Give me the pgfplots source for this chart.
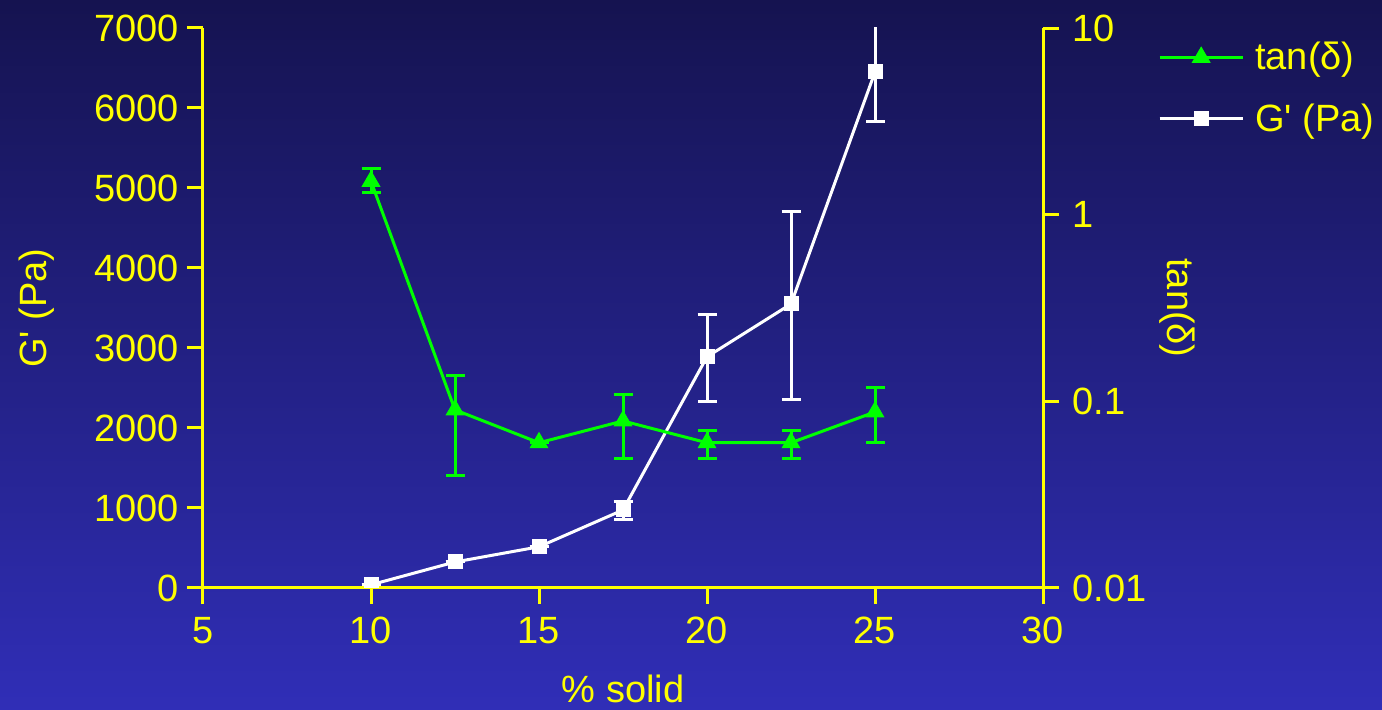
\documentclass[border=0pt]{standalone}
\usepackage{fontspec}
\setmainfont{Liberation Sans}
\usepackage{pgfplots}
\usepackage{pgfplotstable}
\pgfplotsset{compat=1.18}
\definecolor{bgtop}{RGB}{21,19,80}
\definecolor{bgbot}{RGB}{48,46,183}
\definecolor{yel}{RGB}{255,255,0}
\definecolor{grn}{RGB}{0,255,0}

\pgfplotstableread{
x y ep em
10 40 0 0
12.5 325 0 0
15 515 0 0
17.5 975 100 125
20 2890 525 565
22.5 3550 1162 1188
25 6450 615 613
}\gdata

\pgfplotstableread{
x y ep em
10 1.51 0.25 0.19
12.5 0.090 0.048 0.050
15 0.060 0 0
17.5 0.0785 0.0305 0.0288
20 0.060 0.0102 0.0103
22.5 0.060 0.0102 0.0103
25 0.0877 0.031 0.0277
}\tdata

\pgfplotsset{
  common/.style={
    scale only axis, width=420pt, height=280pt,
    at={(101.5pt,61pt)}, anchor=south west,
    xmin=5, xmax=30,
    tick align=outside,
    major tick length=8pt,
    every tick/.style={yel, line width=1.5pt},
    axis line style={yel, line width=1.5pt},
    tick label style={yel},
    /pgf/number format/assume math mode=true,
    /pgf/number format/1000 sep={},
    scaled ticks=false,
  },
  legend image code/.code={
    \draw[mark repeat=2, mark phase=2] plot coordinates {(0pt,0pt) (20.75pt,0pt) (41.5pt,0pt)};
  },
}

\begin{document}
\begin{tikzpicture}[font=\fontsize{19}{23}\selectfont]
\shade[top color=bgtop, bottom color=bgbot] (0,0) rectangle (691pt,355pt);
\useasboundingbox (0,0) rectangle (691pt,355pt);

\begin{axis}[common,
  axis x line*=bottom, axis y line*=left,
  ymin=0, ymax=7000,
  xtick={5,10,...,30},
  ytick={0,1000,...,7000},
  xticklabel style={inner sep=0pt, anchor=north, yshift=-6.5pt},
  yticklabel style={inner sep=0pt, anchor=east, xshift=-4pt},
  xlabel={\% solid},
  every axis x label/.style={at={(axis description cs:0.5,-0.205)}, anchor=base, text=yel},
  ylabel={G\textquotesingle{} (Pa)},
  every axis y label/.style={at={(axis description cs:-0.198,0.5)}, rotate=90, anchor=center, text=yel},
  clip marker paths=true,
]
\addplot[white, line width=1.5pt, mark=square*, mark size=3pt,
  mark options={fill=white, line width=1.5pt},
  error bars/.cd, y dir=both, y explicit,
  error bar style={white, line width=1.5pt},
  error mark options={white, line width=1.5pt, mark size=4.75pt, rotate=90}]
  table[x=x, y=y, y error plus=ep, y error minus=em] {\gdata};
\end{axis}

\begin{axis}[common,
  axis x line=none, axis y line*=right,
  ymode=log, ymin=0.01, ymax=10,
  ytick={0.01,0.1,1,10},
  yticklabels={0.01,0.1,1,10},
  yminorticks=false,
  yticklabel style={inner sep=0pt, anchor=west, xshift=6.5pt},
  ylabel={tan(δ)},
  every axis y label/.style={at={(axis description cs:1.16,0.5)}, rotate=-90, anchor=center, text=yel},
  legend style={at={(axis description cs:1.1295,0.99)}, anchor=north west,
    draw=none, fill=none, text=yel, row sep=11.5pt, column sep=3.5pt,
    nodes={inner sep=2pt}},
  legend cell align=left,
]
\addplot[grn, line width=1.5pt, mark=triangle*, mark size=5pt,
  mark options={fill=grn, line width=0.5pt},
  error bars/.cd, y dir=both, y explicit,
  error bar style={grn, line width=1.5pt},
  error mark options={grn, line width=1.5pt, mark size=4.75pt, rotate=90}]
  table[x=x, y=y, y error plus=ep, y error minus=em] {\tdata};
\addlegendentry{tan(δ)}
\addlegendimage{white, line width=1.5pt, mark=square*, mark size=3pt, mark options={fill=white, line width=1.5pt}}
\addlegendentry{G\textquotesingle{} (Pa)}
\end{axis}
\end{tikzpicture}
\end{document}
